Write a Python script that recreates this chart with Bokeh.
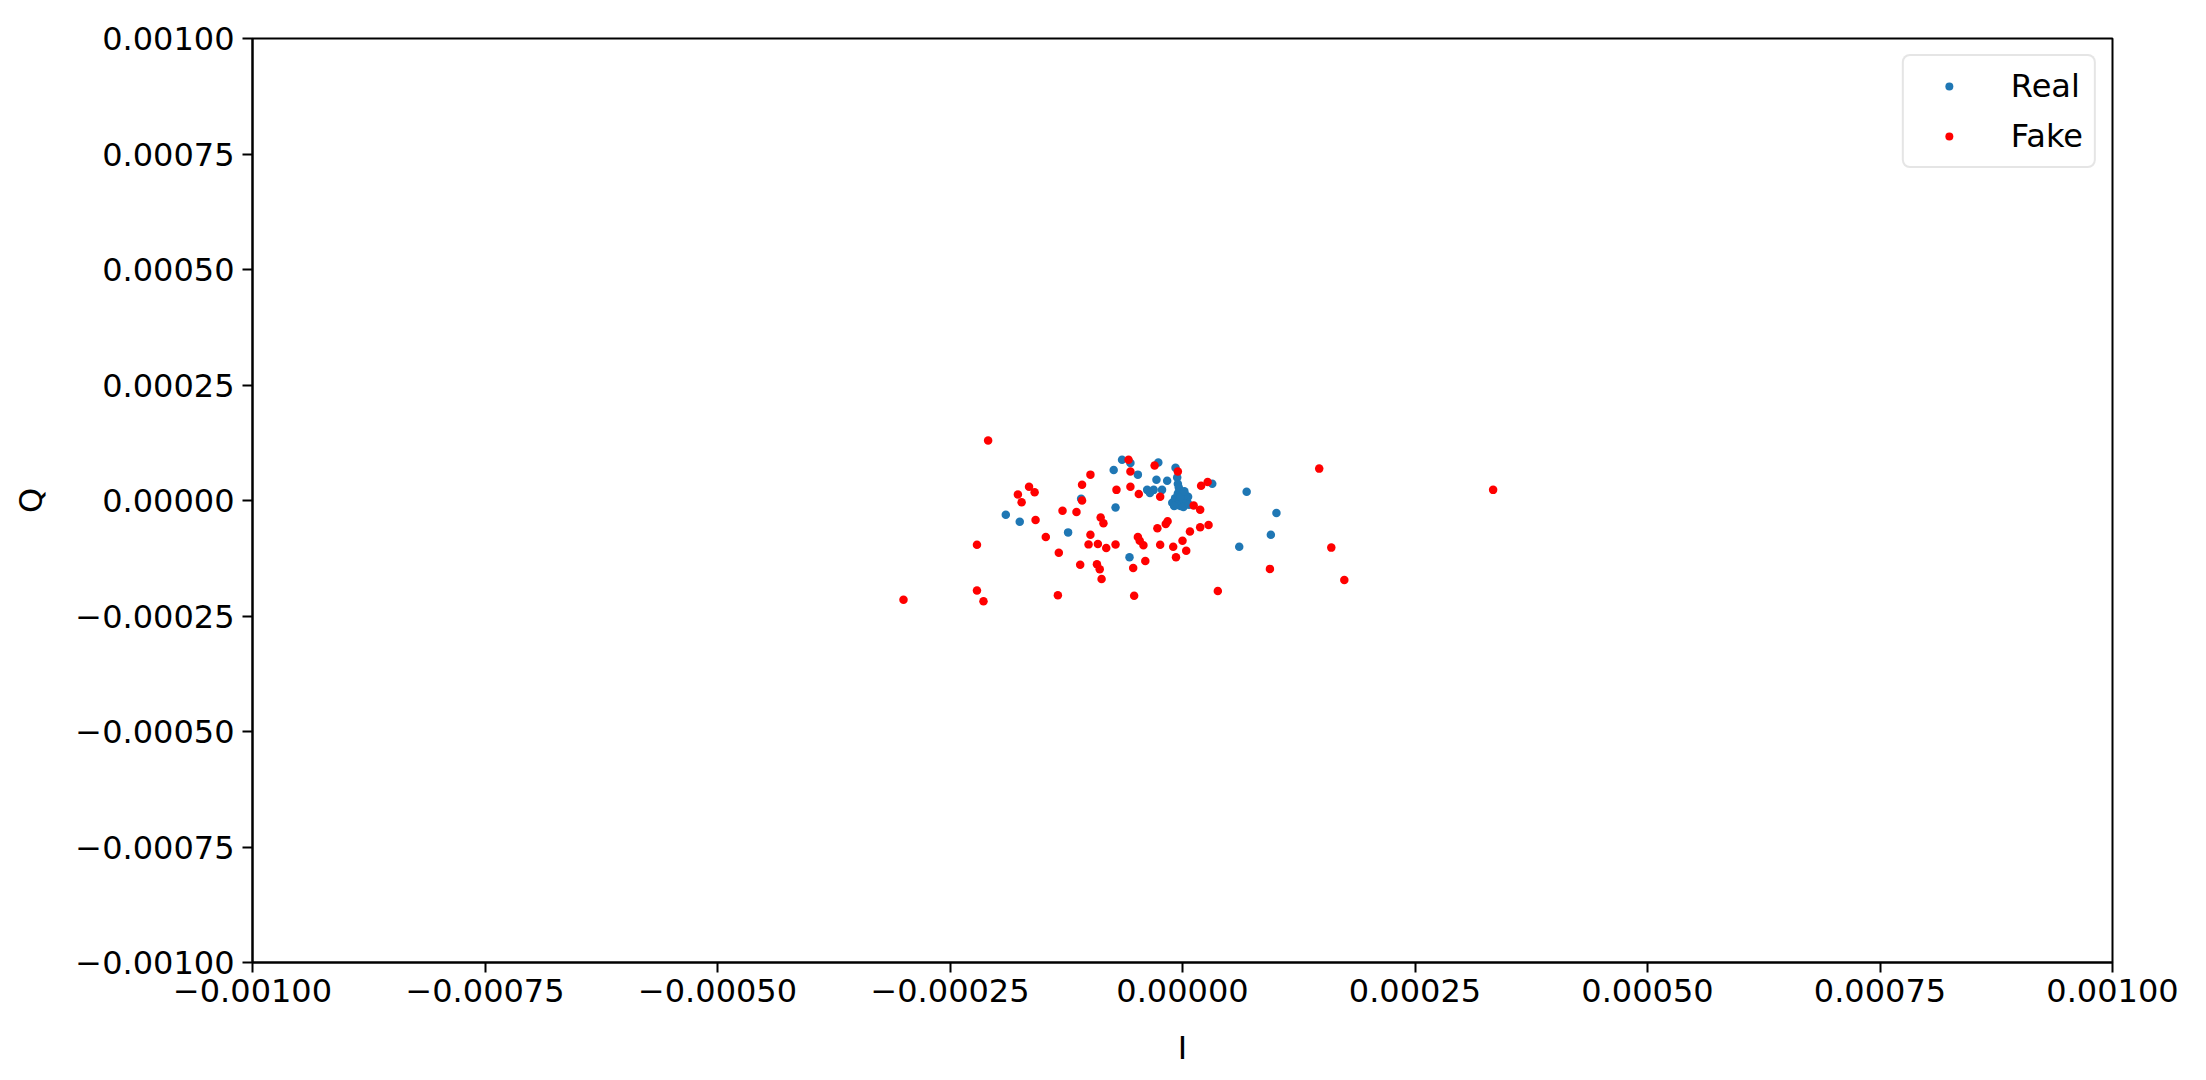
from bokeh.plotting import figure
from bokeh.models import FixedTicker, Legend, LegendItem, ColumnDataSource
from bokeh.embed import file_html
from bokeh.resources import INLINE

# Real samples (I, Q), units of 1e-5
real_i = [-19.0, -17.5, -12.3, -10.9, -7.4, -7.2, -6.5, -5.6, -4.8, -5.7,
          -2.6, -2.8, -1.65, -3.8, -3.1, -2.2, -3.5, -0.75, -0.57, -0.5,
          3.2, 6.9, 10.1, 9.5, 6.1,
          -1.1, -0.8, -0.5, -0.3, -0.2, 0.2, 0.5, 0.6, 0.0, -0.4, -0.6, 0.3,
          -0.2, 0.1, -0.9, 0.7, -0.4, 0.2]
real_q = [-3.1, -4.6, -6.9, 0.4, 6.6, -1.5, 8.8, 8.1, 5.6, -12.3,
          8.2, 4.5, 4.3, 2.3, 2.3, 2.3, 1.6, 7.1, 5.0, 3.6,
          3.6, 1.9, -2.7, -7.4, -10.0,
          -0.5, 0.5, 1.5, 2.2, -1.2, -0.8, -0.2, 0.8, 0.0, -0.3, -1.0, 1.2,
          0.8, -1.4, -1.2, -0.9, 2.8, 2.0]

# Fake samples (I, Q), units of 1e-5
fake_i = [-20.9, -30.0, -22.1, -22.1, -21.4, -16.5, -17.7, -17.3, -15.9, -15.8,
          -14.7, -13.3, -13.4, -12.9, -11.4, -10.8, -10.8, -9.9, -11.0, -9.9,
          -10.1, -9.1, -8.8, -8.5, -8.2, -9.2, -8.9, -8.7, -7.2, -7.1,
          -5.8, -5.6, -5.6, -4.7, -5.2, -5.3, -4.8, -4.6, -4.2, -4.0,
          -3.0, -2.4, -2.7, -1.8, -1.6, -2.4, -1.0, -0.7, 0.0, 0.4,
          0.8, 1.9, 2.8, -0.5, 1.2, 1.9, 2.0, 2.7,
          14.7, 33.4, 16.0, 17.4, 9.4, 3.8]
fake_q = [13.0, -21.5, -9.6, -19.5, -21.8, 3.0, 1.3, -0.4, 1.8, -4.2,
          -7.9, -11.3, -20.5, -2.2, -2.5, 0.0, 3.4, 5.6, -13.9, -7.4,
          -9.5, -9.4, -3.7, -4.9, -10.3, -13.8, -14.9, -17.0, -9.5, 2.3,
          8.8, 6.3, 3.0, 1.4, -20.6, -14.6, -7.9, -8.7, -9.7, -13.1,
          7.6, 0.8, -6.0, -5.1, -4.5, -9.6, -10.0, -12.3, -8.7, -10.9,
          -6.7, -5.8, -5.3, 6.3, -1.1, -2.0, 3.2, 4.0,
          6.9, 2.3, -10.2, -17.2, -14.8, -19.6]

tick_values = [-0.001, -0.00075, -0.0005, -0.00025, 0.0, 0.00025, 0.0005, 0.00075, 0.001]
tick_labels = ["\u22120.00100", "\u22120.00075", "\u22120.00050", "\u22120.00025", "0.00000",
               "0.00025", "0.00050", "0.00075", "0.00100"]

scale = 1e-5
real_src = ColumnDataSource(dict(x=[v * scale for v in real_i], y=[v * scale for v in real_q]))
fake_src = ColumnDataSource(dict(x=[v * scale for v in fake_i], y=[v * scale for v in fake_q]))

FONT = "DejaVu Sans"
FS = "32px"

p = figure(frame_width=1860, frame_height=924, output_backend="svg", toolbar_location=None,
           x_range=(-0.001, 0.001), y_range=(-0.001, 0.001),
           min_border_left=252, min_border_top=38, min_border_right=86, min_border_bottom=110)
p.background_fill_color = "white"
p.border_fill_color = "white"
p.outline_line_color = "black"
p.outline_line_width = 2
p.xgrid.visible = False
p.ygrid.visible = False

r_real = p.scatter("x", "y", source=real_src, size=8.5, color="#1f77b4", line_width=0)
r_fake = p.scatter("x", "y", source=fake_src, size=8.5, color="red", line_width=0)

for ax, lab in ((p.xaxis[0], "I"), (p.yaxis[0], "Q")):
    ax.ticker = FixedTicker(ticks=tick_values)
    ax.major_label_overrides = {v: l for v, l in zip(tick_values, tick_labels)}
    ax.minor_tick_line_color = None
    ax.major_tick_out = 10
    ax.major_tick_in = 0
    ax.major_tick_line_width = 2
    ax.axis_line_width = 2
    ax.major_label_text_font = FONT
    ax.major_label_text_font_size = FS
    ax.major_label_text_color = "black"
    ax.axis_label = lab
    ax.axis_label_text_font = FONT
    ax.axis_label_text_font_size = FS
    ax.axis_label_text_font_style = "normal"
    ax.axis_label_text_color = "black"
p.xaxis[0].major_label_standoff = 6
p.yaxis[0].major_label_standoff = 8
p.xaxis[0].axis_label_standoff = 24
p.yaxis[0].axis_label_standoff = 22

legend = Legend(items=[LegendItem(label="Real", renderers=[r_real]),
                       LegendItem(label="Fake", renderers=[r_fake])],
                location="top_right")
legend.margin = 16
legend.padding = 11
legend.spacing = 12
legend.glyph_width = 68
legend.label_standoff = 28
legend.label_text_font = FONT
legend.label_text_font_size = FS
legend.label_text_color = "black"
legend.border_line_color = "#cccccc"
legend.border_line_width = 2
legend.border_radius = 8
legend.background_fill_alpha = 0.8
p.add_layout(legend)

open("out.html", "w").write(file_html(p, INLINE))
